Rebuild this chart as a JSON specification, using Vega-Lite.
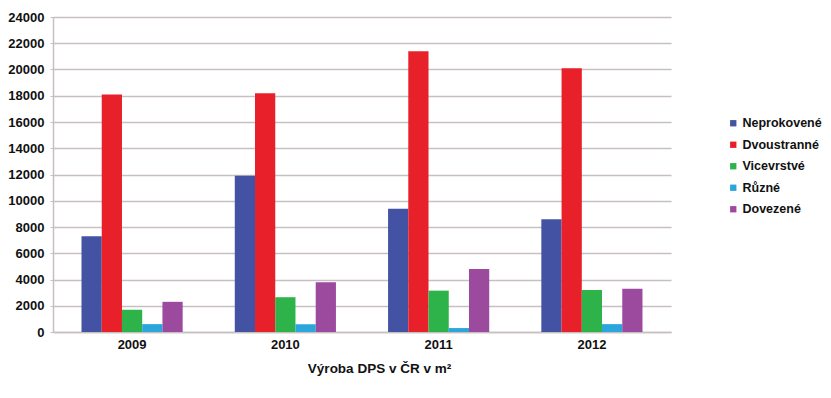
{
  "$schema": "https://vega.github.io/schema/vega-lite/v6.json",
  "autosize": "none",
  "width": 650,
  "height": 315,
  "padding": {"left": 53, "top": 17, "right": 128, "bottom": 66},
  "background": "white",
  "data": {"values": [
    {"rok": "2009", "typ": "Neprokovené", "m2": 7300},
    {"rok": "2009", "typ": "Dvoustranné", "m2": 18100},
    {"rok": "2009", "typ": "Vicevrstvé", "m2": 1700},
    {"rok": "2009", "typ": "Různé", "m2": 600},
    {"rok": "2009", "typ": "Dovezené", "m2": 2300},
    {"rok": "2010", "typ": "Neprokovené", "m2": 11900},
    {"rok": "2010", "typ": "Dvoustranné", "m2": 18200},
    {"rok": "2010", "typ": "Vicevrstvé", "m2": 2650},
    {"rok": "2010", "typ": "Různé", "m2": 600},
    {"rok": "2010", "typ": "Dovezené", "m2": 3800},
    {"rok": "2011", "typ": "Neprokovené", "m2": 9400},
    {"rok": "2011", "typ": "Dvoustranné", "m2": 21400},
    {"rok": "2011", "typ": "Vicevrstvé", "m2": 3150},
    {"rok": "2011", "typ": "Různé", "m2": 300},
    {"rok": "2011", "typ": "Dovezené", "m2": 4800},
    {"rok": "2012", "typ": "Neprokovené", "m2": 8600},
    {"rok": "2012", "typ": "Dvoustranné", "m2": 20100},
    {"rok": "2012", "typ": "Vicevrstvé", "m2": 3200},
    {"rok": "2012", "typ": "Různé", "m2": 600},
    {"rok": "2012", "typ": "Dovezené", "m2": 3300}
  ]},
  "mark": {"type": "bar"},
  "encoding": {
    "x": {
      "field": "rok", "type": "nominal",
      "scale": {"range": [0, 618], "paddingInner": 0.34, "paddingOuter": 0.186},
      "axis": {
        "title": "Výroba DPS v ČR v m²",
        "titleFont": "Liberation Sans", "titleFontSize": 13.5, "titleFontWeight": "bold", "titleColor": "#111",
        "titlePadding": 10, "titleX": 326, "titleAlign": "center",
        "labelFont": "Liberation Sans", "labelFontSize": 13, "labelFontWeight": "bold", "labelColor": "#111",
        "labelAngle": 0, "labelPadding": 6,
        "ticks": false, "domainColor": "#c8c0c0", "domainWidth": 1.5
      }
    },
    "xOffset": {"field": "typ", "type": "nominal", "sort": ["Neprokovené", "Dvoustranné", "Vicevrstvé", "Různé", "Dovezené"], "scale": {"paddingInner": 0, "paddingOuter": 0}},
    "y": {
      "field": "m2", "type": "quantitative",
      "scale": {"domain": [0, 24000], "nice": false},
      "axis": {
        "title": null, "values": [0, 2000, 4000, 6000, 8000, 10000, 12000, 14000, 16000, 18000, 20000, 22000, 24000],
        "format": "d",
        "labelFont": "Liberation Sans", "labelFontSize": 13, "labelFontWeight": "bold", "labelColor": "#111",
        "labelPadding": 6, "tickSize": 3, "tickColor": "#c8c0c0",
        "domainColor": "#c8c0c0", "domainWidth": 1.5,
        "grid": true, "gridColor": "#c8c0c0", "gridWidth": 1.5
      }
    },
    "color": {
      "field": "typ", "type": "nominal",
      "sort": ["Neprokovené", "Dvoustranné", "Vicevrstvé", "Různé", "Dovezené"],
      "scale": {"domain": ["Neprokovené", "Dvoustranné", "Vicevrstvé", "Různé", "Dovezené"], "range": ["#4352a3", "#e8202a", "#2db34a", "#2aa6dc", "#9b4a9e"]},
      "legend": {
        "title": null, "orient": "none", "legendX": 674, "legendY": 100,
        "symbolType": "square", "symbolSize": 40, "symbolStrokeWidth": 0,
        "labelFont": "Liberation Sans", "labelFontSize": 12.5, "labelFontWeight": "bold", "labelColor": "#111",
        "rowPadding": 8.5, "labelOffset": 3
      }
    }
  },
  "config": {"view": {"stroke": null}}
}
